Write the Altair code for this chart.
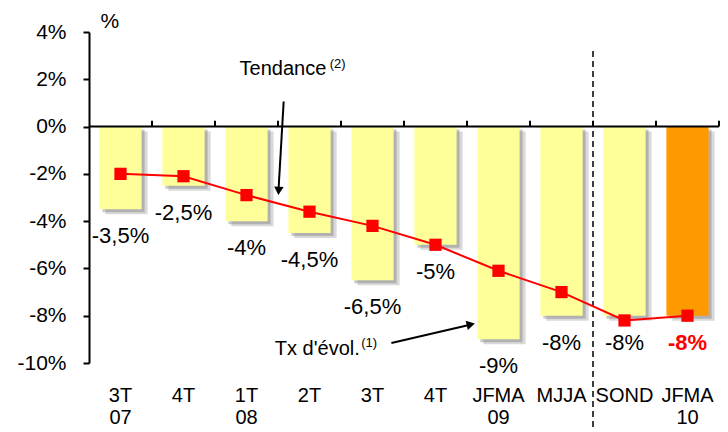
import json
import altair as alt
import pandas as pd

# ---- data ----
cat_lines = [["3T", "07"], ["4T"], ["1T", "08"], ["2T"], ["3T"], ["4T"],
             ["JFMA", "09"], ["MJJA"], ["SOND"], ["JFMA", "10"]]
bar_values = [-3.5, -2.5, -4, -4.5, -6.5, -5, -9, -8, -8, -8]
bar_labels = ["-3,5%", "-2,5%", "-4%", "-4,5%", "-6,5%", "-5%", "-9%", "-8%", "-8%", "-8%"]
trend_values = [-2.0, -2.1, -2.9, -3.6, -4.2, -5.0, -6.1, -7.0, -8.2, -8.0]
highlight = [False] * 9 + [True]

df = pd.DataFrame({
    "idx": list(range(len(bar_values))),
    "value": bar_values,
    "label": bar_labels,
    "trend": trend_values,
    "hl": highlight,
})

FONT = "Liberation Sans"

yscale = alt.Scale(domain=[-10, 4], nice=False, zero=False)
yaxis = alt.Axis(values=list(range(-10, 5, 2)), labelExpr="datum.value + '%'",
                 grid=False, tickSize=6, tickWidth=2, tickColor="black",
                 domainColor="black", domainWidth=2, labelPadding=17,
                 labelFontSize=21, labelColor="black", labelFont=FONT, title=None)


def Y(field):
    return alt.Y(field, type="quantitative", scale=yscale, axis=yaxis)


xband = alt.Scale(domain=list(df["idx"]), paddingInner=0.33, paddingOuter=0.165)
xaxis = alt.Axis(labelExpr=json.dumps(cat_lines) + "[datum.value]", labelAngle=0,
                 ticks=False, domain=False, labelPadding=22, labelFontSize=20,
                 labelFont=FONT, labelColor="black", labelLineHeight=22,
                 labelBaseline="top", title=None, grid=False)


def XB(with_axis=False):
    return alt.X("idx:O", scale=xband, axis=xaxis if with_axis else None)


qscale = alt.Scale(domain=[0, 10], nice=False, zero=False)


def XQ(field="x"):
    return alt.X(field, type="quantitative", scale=qscale, axis=None)


base = alt.Chart(df)

shadow1 = base.mark_bar(color="#666666", opacity=0.25, xOffset=6, x2Offset=6,
                        yOffset=5, y2Offset=5).encode(x=XB(), y=Y("value"))
shadow2 = base.mark_bar(color="#666666", opacity=0.35, xOffset=3, x2Offset=3,
                        yOffset=3, y2Offset=3).encode(x=XB(), y=Y("value"))
bars = base.mark_bar().encode(
    x=XB(True), y=Y("value"),
    color=alt.condition("datum.hl", alt.value("#FF9900"), alt.value("#FFFF99")),
)

zero = alt.Chart(pd.DataFrame({"z": [0]})).mark_rule(color="black", strokeWidth=2).encode(y=Y("z"))

bounds = pd.DataFrame({"b": list(range(1, 11)), "y0": [0] * 10, "y1": [0.25] * 10})
xticks = alt.Chart(bounds).mark_rule(color="black", strokeWidth=2).encode(
    x=XQ("b"), y=Y("y0"), y2="y1")

line = base.mark_line(color="#FF0000", strokeWidth=2).encode(x=XB(), y=Y("trend"))
pts = base.mark_point(shape="square", filled=True, size=150, color="#FF0000",
                      opacity=1).encode(x=XB(), y=Y("trend"))

labels = base.transform_filter("!datum.hl").mark_text(
    dy=27, fontSize=22, baseline="middle", font=FONT, color="black").encode(
    x=XB(), y=Y("value"), text="label:N")
labels_hl = base.transform_filter("datum.hl").mark_text(
    dy=27, fontSize=22, baseline="middle", font=FONT, color="#FF0000",
    fontWeight="bold").encode(x=XB(), y=Y("value"), text="label:N")

# annotations (positions in data units)
pct = alt.Chart(pd.DataFrame({"x": [0.33], "y": [4.42], "t": ["%"]})).mark_text(
    fontSize=21, font=FONT, baseline="middle").encode(x=XQ(), y=Y("y"), text="t:N")

ann = pd.DataFrame({"x": [2.39, 2.95], "y": [2.42, -9.41], "t": ["Tendance", "Tx d'évol."]})
ann_t = alt.Chart(ann).mark_text(fontSize=20, font=FONT, align="left", baseline="middle").encode(
    x=XQ(), y=Y("y"), text="t:N")
sup = pd.DataFrame({"x": [3.82, 4.32], "y": [2.65, -9.15], "t": ["(2)", "(1)"]})
sup_t = alt.Chart(sup).mark_text(fontSize=13, font=FONT, align="left", baseline="middle").encode(
    x=XQ(), y=Y("y"), text="t:N")

arrows = pd.DataFrame({"x": [3.09, 4.80], "x2": [3.01, 6.05],
                       "y": [1.06, -9.15], "y2": [-2.6, -8.38]})
arrow_lines = alt.Chart(arrows).mark_rule(color="black", strokeWidth=2).encode(
    x=XQ(), x2="x2", y=Y("y"), y2="y2")
head1 = alt.Chart(pd.DataFrame({"x": [3.01], "y": [-2.72]})).mark_point(
    shape="triangle-down", filled=True, size=90, color="black", opacity=1, angle=4).encode(
    x=XQ(), y=Y("y"))
head2 = alt.Chart(pd.DataFrame({"x": [6.06], "y": [-8.37]})).mark_point(
    shape="triangle-right", filled=True, size=90, color="black", opacity=1, angle=347).encode(
    x=XQ(), y=Y("y"))

sep = alt.Chart(pd.DataFrame({"x": [8], "y": [3.2], "y2": [-12.8]})).mark_rule(
    color="black", strokeWidth=1.5, strokeDash=[6, 4]).encode(x=XQ(), y=Y("y"), y2="y2")

chart = alt.layer(
    shadow1, shadow2, bars, zero, xticks, sep, line, pts, labels, labels_hl,
    pct, ann_t, sup_t, arrow_lines, head1, head2,
).resolve_scale(x="independent").properties(
    width=630, height=331,
    autosize=alt.AutoSizeParams(type="none"),
    padding={"left": 81, "top": 24, "right": 1, "bottom": 66},
    background="white",
).configure(font=FONT).configure_view(stroke=None)

chart.save("out.html", embed_options={"renderer": "svg", "actions": False})
